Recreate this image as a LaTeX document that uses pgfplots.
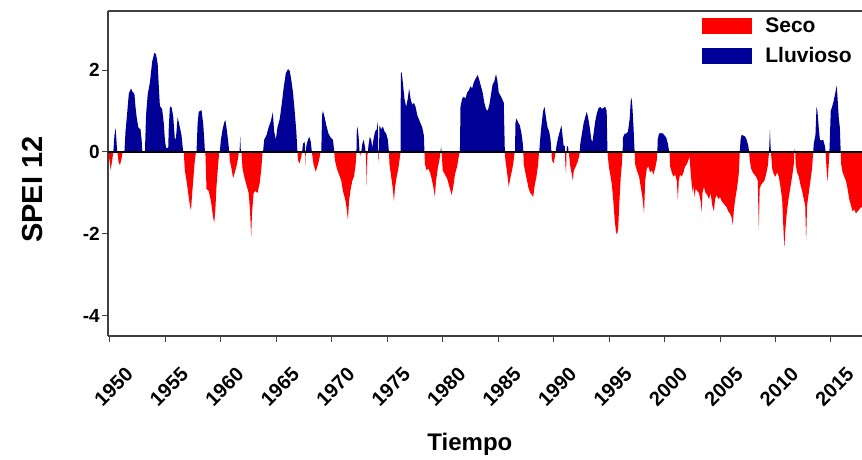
\documentclass[border=0pt]{standalone}
\usepackage{fontspec}
\setmainfont{Liberation Sans}
\usepackage{pgfplots}
\usepackage{pgfplotstable}
\pgfplotsset{compat=1.18}
\definecolor{seco}{RGB}{255,0,0}
\definecolor{lluv}{RGB}{0,0,150}

\pgfplotstableread{
t v
1949.85 0
1950.0 -0.3
1950.06 -0.44
1950.2 -0.2
1950.3 0
1950.4 0.4
1950.51 0.58
1950.6 0.2
1950.66 0
1950.78 -0.25
1950.9 -0.32
1951.05 -0.15
1951.14 0
1951.3 0
1951.4 0.5
1951.5 0.8
1951.7 1.43
1951.9 1.55
1952.0 1.48
1952.2 1.42
1952.3 1.1
1952.4 0.86
1952.55 0.6
1952.75 0.55
1952.85 0.3
1952.92 0
1953.15 0
1953.25 0.9
1953.4 1.4
1953.6 1.7
1953.8 2.2
1954.0 2.42
1954.15 2.38
1954.3 2.15
1954.4 1.6
1954.5 1.12
1954.7 1.05
1954.85 0.7
1954.95 0.3
1955.05 0.1
1955.25 0.1
1955.3 0.6
1955.4 1.1
1955.55 1.1
1955.7 0.86
1955.85 0.3
1955.95 0.35
1956.1 0.85
1956.3 0.6
1956.45 0.4
1956.6 0
1956.65 0
1956.75 -0.45
1956.9 -0.7
1957.05 -1.0
1957.2 -1.3
1957.3 -1.42
1957.4 -1.05
1957.5 -0.7
1957.65 -0.2
1957.75 0
1957.8 0
1957.9 0.7
1958.0 0.98
1958.25 1.02
1958.4 0.7
1958.5 0.3
1958.56 0
1958.6 0
1958.7 -0.9
1958.9 -0.95
1959.1 -1.2
1959.3 -1.6
1959.4 -1.72
1959.5 -1.4
1959.6 -0.85
1959.75 -0.3
1959.85 0
1959.9 0
1960.0 0.3
1960.15 0.55
1960.3 0.72
1960.4 0.78
1960.55 0.5
1960.68 0.2
1960.75 0
1960.8 -0.2
1960.95 -0.4
1961.1 -0.64
1961.25 -0.5
1961.4 -0.35
1961.55 -0.15
1961.62 0
1961.68 0
1961.74 0.37
1961.8 0
1961.85 0
1961.95 -0.4
1962.1 -0.6
1962.3 -0.8
1962.5 -1.0
1962.62 -1.4
1962.73 -2.07
1962.8 -1.5
1962.95 -1.0
1963.1 -0.95
1963.3 -1.0
1963.5 -0.75
1963.65 -0.4
1963.75 0
1963.8 0
1963.9 0.3
1964.1 0.4
1964.3 0.6
1964.5 0.75
1964.68 0.97
1964.8 0.5
1964.95 0.3
1965.1 0.6
1965.3 0.8
1965.5 1.2
1965.65 1.55
1965.85 1.92
1966.05 2.02
1966.2 1.98
1966.35 1.75
1966.5 1.45
1966.65 1.0
1966.8 0.5
1966.9 0
1966.95 -0.2
1967.1 -0.28
1967.25 -0.1
1967.32 0
1967.4 0.2
1967.55 0.25
1967.6 0
1967.62 -0.35
1967.66 0
1967.7 0.15
1967.85 0.3
1967.97 0.37
1968.1 0.25
1968.2 0
1968.35 -0.3
1968.55 -0.48
1968.7 -0.35
1968.85 -0.2
1968.98 0
1969.05 0
1969.12 0.9
1969.2 1.0
1969.35 0.85
1969.5 0.65
1969.7 0.45
1969.9 0.35
1970.1 0.3
1970.22 0
1970.28 -0.2
1970.45 -0.4
1970.65 -0.55
1970.85 -0.7
1971.0 -0.95
1971.2 -1.15
1971.35 -1.4
1971.45 -1.66
1971.55 -1.2
1971.7 -0.9
1971.85 -0.7
1972.0 -0.6
1972.15 -0.3
1972.22 0
1972.25 0.5
1972.32 0.62
1972.42 0.35
1972.5 0
1972.55 -0.1
1972.65 0
1972.75 0.2
1972.88 0.3
1973.0 0.1
1973.05 0
1973.1 -0.3
1973.15 -0.8
1973.2 -0.1
1973.25 0
1973.3 0.15
1973.42 0.37
1973.55 0.3
1973.65 0.1
1973.75 0.3
1973.9 0.5
1974.05 0.55
1974.15 0.74
1974.19 0
1974.22 -0.28
1974.25 0
1974.3 0.65
1974.45 0.55
1974.6 0.62
1974.75 0.5
1974.9 0.45
1975.05 0.3
1975.15 0
1975.2 -0.3
1975.35 -0.6
1975.5 -0.9
1975.6 -1.2
1975.7 -0.85
1975.85 -0.6
1976.0 -0.4
1976.15 -0.1
1976.2 0
1976.22 1.9
1976.3 1.95
1976.4 1.7
1976.55 1.3
1976.7 1.1
1976.85 1.3
1976.97 1.55
1977.1 1.3
1977.25 1.15
1977.4 1.2
1977.55 1.1
1977.7 0.9
1977.85 0.8
1978.0 0.7
1978.15 0.6
1978.3 0.4
1978.35 0
1978.4 -0.3
1978.55 -0.45
1978.7 -0.4
1978.85 -0.5
1979.0 -0.65
1979.15 -0.85
1979.28 -1.08
1979.4 -0.7
1979.55 -0.4
1979.7 -0.2
1979.8 0
1979.85 0.13
1979.9 0
1980.0 -0.45
1980.2 -0.55
1980.4 -0.65
1980.6 -0.85
1980.8 -1.05
1980.95 -0.85
1981.1 -0.55
1981.3 -0.35
1981.45 -0.1
1981.52 0
1981.55 0
1981.6 1.1
1981.75 1.3
1981.9 1.35
1982.05 1.3
1982.2 1.45
1982.35 1.5
1982.5 1.6
1982.65 1.55
1982.8 1.7
1982.95 1.78
1983.15 1.88
1983.3 1.75
1983.45 1.6
1983.6 1.45
1983.75 1.2
1983.9 1.05
1984.05 1.0
1984.2 1.15
1984.35 1.4
1984.5 1.65
1984.65 1.72
1984.8 1.9
1984.92 1.75
1985.05 1.45
1985.2 1.38
1985.35 1.3
1985.5 1.2
1985.6 0
1985.65 -0.2
1985.8 -0.5
1985.95 -0.85
1986.05 -0.7
1986.2 -0.5
1986.35 -0.3
1986.48 0
1986.52 0
1986.55 0.7
1986.65 0.82
1986.8 0.72
1986.95 0.65
1987.1 0.45
1987.22 0.2
1987.27 0
1987.3 -0.3
1987.45 -0.5
1987.6 -0.7
1987.75 -0.9
1987.9 -1.0
1988.05 -1.05
1988.15 -1.1
1988.3 -0.8
1988.45 -0.6
1988.6 -0.3
1988.68 0
1988.7 0
1988.78 0.3
1988.9 0.65
1989.05 1.0
1989.18 1.1
1989.3 0.85
1989.45 0.6
1989.6 0.5
1989.72 0.3
1989.8 0
1989.85 -0.2
1990.0 -0.28
1990.12 -0.1
1990.18 0
1990.25 0.15
1990.4 0.35
1990.55 0.5
1990.7 0.65
1990.82 0.35
1990.9 0.15
1991.0 0.15
1991.03 0
1991.05 -0.3
1991.12 -0.52
1991.16 0
1991.2 0.15
1991.3 0.12
1991.35 0
1991.4 -0.1
1991.5 -0.35
1991.6 -0.5
1991.72 -0.68
1991.82 -0.45
1992.0 -0.35
1992.15 -0.25
1992.3 -0.1
1992.35 0
1992.4 0.2
1992.55 0.45
1992.7 0.7
1992.85 0.85
1992.98 0.98
1993.1 0.85
1993.25 0.6
1993.4 0.3
1993.5 0.25
1993.6 0.45
1993.75 0.75
1993.9 0.95
1994.05 1.07
1994.2 1.1
1994.35 1.05
1994.5 1.08
1994.65 1.1
1994.78 1.0
1994.85 0
1994.9 -0.15
1995.0 -0.4
1995.1 -0.55
1995.25 -0.8
1995.38 -1.2
1995.5 -1.65
1995.62 -1.95
1995.72 -2.02
1995.82 -1.85
1995.93 -1.2
1996.05 -0.6
1996.15 -0.3
1996.2 0
1996.22 0
1996.25 0.35
1996.4 0.45
1996.55 0.45
1996.7 0.5
1996.85 0.8
1996.95 1.25
1997.02 1.32
1997.1 1.1
1997.2 0.6
1997.3 0
1997.35 -0.3
1997.5 -0.45
1997.7 -0.6
1997.85 -0.85
1998.0 -1.1
1998.15 -1.5
1998.25 -0.7
1998.4 -0.4
1998.55 -0.35
1998.7 -0.5
1998.85 -0.45
1999.0 -0.55
1999.15 -0.4
1999.3 -0.2
1999.35 0
1999.38 0.3
1999.5 0.45
1999.7 0.46
1999.85 0.45
2000.0 0.4
2000.15 0.35
2000.3 0.2
2000.42 0
2000.45 0
2000.5 -0.35
2000.65 -0.5
2000.8 -0.6
2000.95 -0.55
2001.1 -0.7
2001.2 -1.17
2001.28 -0.7
2001.4 -0.55
2001.55 -0.6
2001.7 -0.5
2001.85 -0.35
2002.0 -0.3
2002.15 -0.2
2002.25 -0.1
2002.35 -0.5
2002.45 -0.8
2002.55 -1.0
2002.62 -0.8
2002.7 -1.1
2002.8 -0.9
2002.95 -0.95
2003.1 -1.0
2003.25 -1.2
2003.35 -1.45
2003.42 -1.0
2003.55 -0.85
2003.7 -1.0
2003.85 -1.05
2004.0 -1.15
2004.15 -1.0
2004.3 -1.3
2004.45 -1.45
2004.55 -1.15
2004.7 -1.05
2004.85 -1.15
2005.0 -1.1
2005.15 -1.2
2005.3 -1.25
2005.45 -1.3
2005.6 -1.35
2005.75 -1.45
2005.9 -1.5
2006.05 -1.6
2006.15 -1.78
2006.25 -1.4
2006.4 -1.1
2006.55 -0.85
2006.7 -0.5
2006.78 0
2006.85 0.3
2006.95 0.42
2007.1 0.4
2007.25 0.38
2007.4 0.3
2007.55 0.15
2007.62 0
2007.68 -0.2
2007.8 -0.4
2007.95 -0.5
2008.1 -0.55
2008.25 -0.6
2008.4 -0.7
2008.5 -1.9
2008.57 -0.9
2008.7 -0.8
2008.85 -0.75
2009.0 -0.7
2009.15 -0.55
2009.3 -0.35
2009.42 0
2009.5 0.55
2009.56 0.1
2009.6 0
2009.62 -0.1
2009.7 -0.4
2009.85 -0.55
2010.0 -0.6
2010.15 -0.5
2010.3 -0.6
2010.45 -0.85
2010.6 -1.15
2010.72 -1.9
2010.8 -2.33
2010.9 -1.85
2011.05 -1.4
2011.2 -1.1
2011.35 -0.85
2011.5 -0.6
2011.65 -0.3
2011.7 0
2011.75 0.08
2011.78 0
2011.82 -0.3
2011.95 -0.5
2012.1 -0.6
2012.25 -0.8
2012.4 -0.95
2012.55 -1.15
2012.68 -1.3
2012.76 -2.15
2012.85 -1.3
2013.0 -1.0
2013.15 -0.7
2013.3 -0.4
2013.4 0
2013.45 0.2
2013.6 0.4
2013.7 1.1
2013.78 1.0
2013.9 0.6
2014.0 0.3
2014.15 0.28
2014.3 0.3
2014.45 0.15
2014.52 0
2014.6 -0.4
2014.7 -0.72
2014.8 -0.3
2014.86 0
2014.9 0.3
2014.98 1.0
2015.1 1.1
2015.25 1.25
2015.4 1.45
2015.52 1.62
2015.6 1.3
2015.7 0.85
2015.8 0.6
2015.88 0
2015.92 -0.3
2016.05 -0.5
2016.2 -0.6
2016.35 -0.7
2016.5 -0.9
2016.65 -1.15
2016.8 -1.3
2016.95 -1.45
2017.1 -1.4
2017.25 -1.5
2017.4 -1.45
2017.55 -1.4
2017.7 -1.35
2017.8 -1.35
2017.8 0
}\spei

\begin{document}
\begin{tikzpicture}
\begin{axis}[
  name=ax, at={(0,0)}, anchor=south west,
  scale only axis, width=754pt, height=325pt,
  xmin=1949.82, xmax=2017.8, ymin=-4.49, ymax=3.44,
  axis lines=left, axis line style={-, line width=1.3pt, black!75},
  xtick={1950,1955,...,2015}, ytick={-4,-2,0,2},
  tick align=outside, major tick length=6pt,
  tick style={line width=1pt, black!75},
  /pgf/number format/assume math mode=true,
  /pgf/number format/1000 sep={},
  x tick label style={rotate=45, anchor=center, font=\bfseries\fontsize{20}{20}\selectfont, inner sep=0pt, xshift=-29pt, yshift=-34pt},
  y tick label style={font=\bfseries\fontsize{19}{19}\selectfont, inner sep=2pt},
  xlabel={Tiempo}, ylabel={SPEI 12},
  label style={font=\bfseries\fontsize{24}{24}\selectfont},
  xlabel style={at={(axis description cs:0.48,-0.351)}, anchor=base},
  ylabel style={at={(axis description cs:-0.1,0.45)}, anchor=center, font=\bfseries\fontsize{29}{29}\selectfont},
  legend image code/.code={\fill[#1] (0pt,-8pt) rectangle (50pt,8pt);},
  legend cell align=left,
  legend style={draw=none, fill=none, at={(0.788,0.985)}, anchor=north west,
    inner sep=0pt, row sep=9pt, font=\bfseries\fontsize{21}{21}\selectfont,
    /tikz/every odd column/.append style={column sep=11pt}},
  clip=true,
]
\addplot[fill=seco, draw=none] table[x=t, y expr={min(\thisrow{v},0)}] {\spei} \closedcycle;
\addlegendentry{Seco}
\addplot[fill=lluv, draw=none] table[x=t, y expr={max(\thisrow{v},0)}] {\spei} \closedcycle;
\addlegendentry{Lluvioso}
\addplot[black, line width=1.3pt, forget plot] coordinates {(1949.82,0) (2017.8,0)};
\end{axis}
\draw[line width=1.3pt, black!75] (ax.north west) -- (ax.north east);
\pgfresetboundingbox
\path (ax.south west) ++(-108pt,-124pt) rectangle ([shift={(0pt,11pt)}]ax.north east);
\end{tikzpicture}
\end{document}
